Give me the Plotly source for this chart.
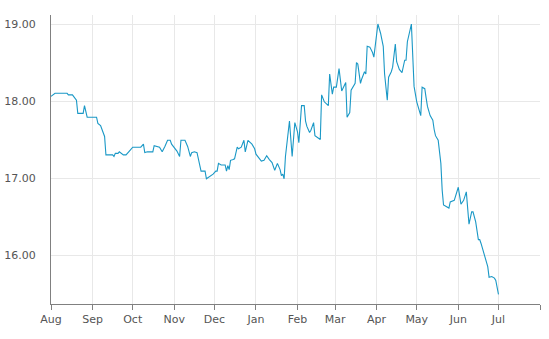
import plotly.graph_objects as go

dates = [
    "2017-08-01", "2017-08-04", "2017-08-13", "2017-08-14", "2017-08-17", "2017-08-20",
    "2017-08-21", "2017-08-25", "2017-08-26", "2017-08-28", "2017-09-04", "2017-09-05",
    "2017-09-07", "2017-09-08", "2017-09-10", "2017-09-11", "2017-09-16", "2017-09-17",
    "2017-09-18", "2017-09-20", "2017-09-21", "2017-09-24", "2017-09-26", "2017-09-29",
    "2017-10-01", "2017-10-07", "2017-10-09", "2017-10-10", "2017-10-12", "2017-10-16",
    "2017-10-17", "2017-10-21", "2017-10-23", "2017-10-25", "2017-10-27", "2017-10-29",
    "2017-10-30", "2017-11-03", "2017-11-05", "2017-11-06", "2017-11-09", "2017-11-11",
    "2017-11-13", "2017-11-14", "2017-11-16", "2017-11-18", "2017-11-21", "2017-11-24",
    "2017-11-25", "2017-11-30", "2017-12-02", "2017-12-03", "2017-12-04", "2017-12-06",
    "2017-12-09", "2017-12-10", "2017-12-11", "2017-12-12", "2017-12-13", "2017-12-15",
    "2017-12-16", "2017-12-18", "2017-12-19", "2017-12-21", "2017-12-23", "2017-12-24",
    "2017-12-26", "2017-12-29", "2017-12-31", "2018-01-01", "2018-01-04", "2018-01-05",
    "2018-01-07", "2018-01-09", "2018-01-11", "2018-01-13", "2018-01-15", "2018-01-17",
    "2018-01-19", "2018-01-20", "2018-01-21", "2018-01-22", "2018-01-23", "2018-01-26",
    "2018-01-28", "2018-01-30", "2018-02-01", "2018-02-02", "2018-02-04", "2018-02-06",
    "2018-02-07", "2018-02-08", "2018-02-10", "2018-02-11", "2018-02-13", "2018-02-14",
    "2018-02-18", "2018-02-19", "2018-02-21", "2018-02-24", "2018-02-25", "2018-02-27",
    "2018-02-28", "2018-03-02", "2018-03-04", "2018-03-06", "2018-03-09", "2018-03-10",
    "2018-03-12", "2018-03-13", "2018-03-16", "2018-03-17", "2018-03-18", "2018-03-20",
    "2018-03-21", "2018-03-23", "2018-03-24", "2018-03-25", "2018-03-27", "2018-03-29",
    "2018-03-30", "2018-04-02", "2018-04-04", "2018-04-06", "2018-04-07", "2018-04-09",
    "2018-04-10", "2018-04-12", "2018-04-13", "2018-04-15", "2018-04-16", "2018-04-18",
    "2018-04-20", "2018-04-22", "2018-04-23", "2018-04-24", "2018-04-27", "2018-04-28",
    "2018-04-29", "2018-05-01", "2018-05-04", "2018-05-05", "2018-05-07", "2018-05-08",
    "2018-05-09", "2018-05-11", "2018-05-13", "2018-05-14", "2018-05-15", "2018-05-17",
    "2018-05-19", "2018-05-20", "2018-05-21", "2018-05-23", "2018-05-25", "2018-05-26",
    "2018-05-27", "2018-05-29", "2018-06-01", "2018-06-03", "2018-06-05", "2018-06-07",
    "2018-06-09", "2018-06-11", "2018-06-12", "2018-06-14", "2018-06-16", "2018-06-17",
    "2018-06-18", "2018-06-21", "2018-06-23", "2018-06-24", "2018-06-26", "2018-06-28",
    "2018-06-29", "2018-07-01",
]

values = [
    18.06, 18.10, 18.10, 18.08, 18.08, 18.01,
    17.84, 17.84, 17.94, 17.79, 17.79, 17.71,
    17.68, 17.63, 17.54, 17.30, 17.30, 17.28,
    17.32, 17.32, 17.34, 17.30, 17.30, 17.36,
    17.40, 17.40, 17.44, 17.33, 17.34, 17.34,
    17.42, 17.40, 17.34, 17.41, 17.49, 17.49,
    17.44, 17.35, 17.28, 17.49, 17.49, 17.41,
    17.28, 17.33, 17.34, 17.33, 17.09, 17.09,
    16.99, 17.05, 17.09, 17.09, 17.19, 17.17,
    17.17, 17.09, 17.16, 17.11, 17.23, 17.24,
    17.25, 17.40, 17.38, 17.40, 17.49, 17.34,
    17.49, 17.44, 17.38, 17.31, 17.24, 17.22,
    17.23, 17.29, 17.24, 17.20, 17.10, 17.19,
    17.11, 17.03, 17.05, 16.99, 17.28, 17.74,
    17.28, 17.72, 17.60, 17.46, 17.94, 17.94,
    17.74, 17.67, 17.59, 17.62, 17.72, 17.55,
    17.50, 18.08, 17.99, 17.94, 18.35, 18.09,
    18.18, 18.18, 18.42, 18.13, 18.24, 17.79,
    17.85, 18.14, 18.23, 18.50, 18.48, 18.23,
    18.29, 18.38, 18.35, 18.71, 18.70, 18.63,
    18.57, 19.00, 18.88, 18.71, 18.35, 18.01,
    18.31, 18.38, 18.44, 18.74, 18.51, 18.41,
    18.37, 18.53, 18.53, 18.77, 19.00, 18.58,
    18.19, 17.99, 17.81, 18.18, 18.16, 18.04,
    17.93, 17.81, 17.75, 17.63, 17.55, 17.49,
    17.19, 16.84, 16.65, 16.63, 16.61, 16.69,
    16.70, 16.71, 16.88, 16.66, 16.71, 16.82,
    16.40, 16.56, 16.56, 16.43, 16.20, 16.20,
    16.15, 15.96, 15.85, 15.71, 15.72, 15.70,
    15.67, 15.49,
]

x_range = ["2017-08-01", "2018-08-01"]
y_range = [15.364, 19.117]
y_ticks = [16, 17, 18, 19]

fig = go.Figure()
fig.add_trace(go.Scatter(
    x=dates, y=values, mode="lines",
    line=dict(color="#1a98c6", width=1.1),
    hoverinfo="skip", showlegend=False,
))

fig.update_layout(
    width=549, height=339,
    margin=dict(l=51, r=9, t=15, b=35),
    paper_bgcolor="white", plot_bgcolor="white",
    font=dict(family="DejaVu Sans", size=11, color="#555555"),
)
fig.update_xaxes(
    type="date", range=x_range, automargin=False,
    dtick="M1", tick0="2017-08-01", tickformat="%b",
    showgrid=True, gridcolor="#e8e8e8", gridwidth=1,
    showline=True, linecolor="#808080", linewidth=1,
    ticks="outside", ticklen=5, tickcolor="#808080",
    zeroline=False,
)
fig.update_yaxes(
    range=y_range, tickvals=y_ticks, tickformat=".2f", automargin=False,
    showgrid=True, gridcolor="#e8e8e8", gridwidth=1,
    showline=True, linecolor="#808080", linewidth=1,
    ticks="", ticklabelstandoff=12,
    zeroline=False,
)

fig.write_html("out.html")
